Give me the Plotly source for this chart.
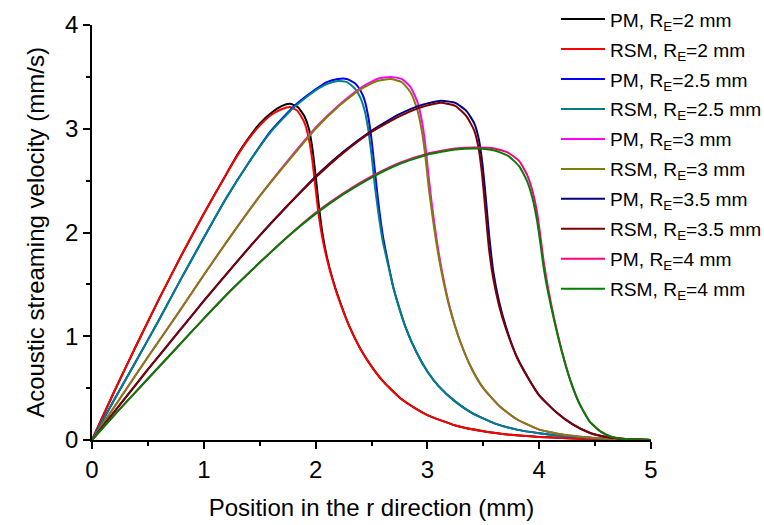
import plotly.graph_objects as go

# ---- data ----
x_re2 = [0, 0.2, 0.4, 0.6, 0.8, 1.0, 1.2, 1.3, 1.4, 1.5, 1.6, 1.7, 1.77, 1.84, 1.9, 1.94, 1.97, 2.0, 2.03, 2.06, 2.1, 2.15, 2.2, 2.3, 2.4, 2.5, 2.6, 2.75, 2.9, 3.0, 3.25, 3.5, 3.75, 4.0, 4.25, 4.5, 4.75, 5.0]
pm_re2 = [0, 0.47, 0.92, 1.36, 1.78, 2.18, 2.56, 2.75, 2.91, 3.05, 3.15, 3.22, 3.24, 3.21, 3.12, 3.0, 2.82, 2.55, 2.25, 2.0, 1.77, 1.56, 1.39, 1.1, 0.88, 0.71, 0.57, 0.41, 0.3, 0.24, 0.14, 0.085, 0.05, 0.03, 0.017, 0.009, 0.004, 0.0]
rsm_re2 = [0, 0.47, 0.92, 1.36, 1.78, 2.18, 2.56, 2.74, 2.9, 3.03, 3.13, 3.19, 3.21, 3.17, 3.06, 2.9, 2.7, 2.42, 2.15, 1.95, 1.75, 1.55, 1.38, 1.1, 0.88, 0.71, 0.57, 0.41, 0.3, 0.24, 0.14, 0.085, 0.05, 0.03, 0.017, 0.009, 0.004, 0.0]

x_re25 = [0, 0.2, 0.4, 0.6, 0.8, 1.0, 1.2, 1.4, 1.6, 1.8, 1.9, 2.0, 2.1, 2.2, 2.28, 2.35, 2.4, 2.44, 2.47, 2.5, 2.53, 2.56, 2.6, 2.65, 2.7, 2.8, 2.9, 3.0, 3.1, 3.25, 3.4, 3.6, 3.8, 4.0, 4.25, 4.5, 4.75, 5.0]
pm_re25 = [0, 0.39, 0.77, 1.16, 1.56, 1.95, 2.33, 2.67, 2.98, 3.21, 3.3, 3.38, 3.45, 3.48, 3.48, 3.44, 3.37, 3.27, 3.12, 2.9, 2.6, 2.3, 1.98, 1.7, 1.45, 1.1, 0.85, 0.66, 0.52, 0.37, 0.26, 0.16, 0.1, 0.065, 0.035, 0.018, 0.007, 0.0]
rsm_re25 = [0, 0.39, 0.77, 1.16, 1.56, 1.95, 2.33, 2.67, 2.97, 3.2, 3.29, 3.37, 3.43, 3.46, 3.45, 3.39, 3.3, 3.17, 3.0, 2.75, 2.45, 2.2, 1.92, 1.68, 1.45, 1.1, 0.85, 0.66, 0.52, 0.37, 0.26, 0.16, 0.1, 0.065, 0.035, 0.018, 0.007, 0.0]

x_re3 = [0, 0.25, 0.5, 0.75, 1.0, 1.25, 1.5, 1.75, 2.0, 2.2, 2.4, 2.55, 2.67, 2.77, 2.85, 2.91, 2.95, 2.98, 3.01, 3.04, 3.08, 3.13, 3.2, 3.3, 3.4, 3.5, 3.65, 3.8, 4.0, 4.25, 4.5, 4.75, 5.0]
pm_re3 = [0, 0.40, 0.80, 1.19, 1.59, 1.98, 2.35, 2.69, 3.01, 3.22, 3.39, 3.48, 3.50, 3.48, 3.40, 3.26, 3.08, 2.86, 2.55, 2.27, 1.95, 1.63, 1.28, 0.93, 0.68, 0.5, 0.32, 0.2, 0.1, 0.045, 0.02, 0.007, 0.0]
rsm_re3 = [0, 0.40, 0.80, 1.19, 1.59, 1.98, 2.35, 2.68, 3.0, 3.21, 3.38, 3.46, 3.48, 3.45, 3.35, 3.18, 2.98, 2.75, 2.45, 2.2, 1.9, 1.6, 1.27, 0.93, 0.68, 0.5, 0.32, 0.2, 0.1, 0.045, 0.02, 0.007, 0.0]

x_re35 = [0, 0.25, 0.5, 0.75, 1.0, 1.25, 1.5, 1.75, 2.0, 2.25, 2.5, 2.75, 2.95, 3.12, 3.25, 3.35, 3.42, 3.46, 3.49, 3.52, 3.55, 3.59, 3.64, 3.7, 3.8, 3.9, 4.0, 4.15, 4.3, 4.45, 4.6, 4.8, 5.0]
pm_re35 = [0, 0.34, 0.68, 1.01, 1.34, 1.66, 1.97, 2.26, 2.54, 2.78, 2.98, 3.14, 3.23, 3.27, 3.25, 3.17, 3.05, 2.9, 2.68, 2.36, 2.0, 1.62, 1.34, 1.1, 0.8, 0.6, 0.43, 0.27, 0.15, 0.07, 0.03, 0.008, 0.0]
rsm_re35 = [0, 0.34, 0.68, 1.01, 1.34, 1.66, 1.97, 2.26, 2.53, 2.77, 2.97, 3.12, 3.21, 3.25, 3.22, 3.12, 2.98, 2.8, 2.55, 2.2, 1.85, 1.55, 1.3, 1.08, 0.8, 0.6, 0.43, 0.27, 0.15, 0.07, 0.03, 0.008, 0.0]

x_re4 = [0, 0.25, 0.5, 0.75, 1.0, 1.25, 1.5, 1.75, 2.0, 2.25, 2.5, 2.75, 3.0, 3.25, 3.45, 3.6, 3.72, 3.82, 3.89, 3.94, 3.98, 4.01, 4.04, 4.08, 4.13, 4.2, 4.28, 4.36, 4.45, 4.55, 4.65, 4.8, 5.0]
pm_re4 = [0, 0.30, 0.59, 0.88, 1.17, 1.45, 1.71, 1.96, 2.19, 2.38, 2.54, 2.67, 2.76, 2.81, 2.82, 2.81, 2.77, 2.69, 2.56, 2.4, 2.2, 1.97, 1.72, 1.46, 1.19, 0.87, 0.57, 0.35, 0.18, 0.08, 0.03, 0.008, 0.0]
rsm_re4 = [0, 0.30, 0.59, 0.88, 1.17, 1.45, 1.71, 1.96, 2.18, 2.37, 2.53, 2.66, 2.75, 2.80, 2.81, 2.79, 2.74, 2.64, 2.5, 2.33, 2.12, 1.9, 1.66, 1.42, 1.17, 0.86, 0.57, 0.35, 0.18, 0.08, 0.03, 0.008, 0.0]

names = ["PM, R<sub>E</sub>=2 mm", "RSM, R<sub>E</sub>=2 mm",
         "PM, R<sub>E</sub>=2.5 mm", "RSM, R<sub>E</sub>=2.5 mm",
         "PM, R<sub>E</sub>=3 mm", "RSM, R<sub>E</sub>=3 mm",
         "PM, R<sub>E</sub>=3.5 mm", "RSM, R<sub>E</sub>=3.5 mm",
         "PM, R<sub>E</sub>=4 mm", "RSM, R<sub>E</sub>=4 mm"]
colors = ["#000000", "#FF0000", "#0000FF", "#008080", "#FF00FF",
          "#808000", "#000080", "#800000", "#FF0080", "#008000"]
series = [(x_re2, pm_re2), (x_re2, rsm_re2), (x_re25, pm_re25), (x_re25, rsm_re25),
          (x_re3, pm_re3), (x_re3, rsm_re3), (x_re35, pm_re35), (x_re35, rsm_re35),
          (x_re4, pm_re4), (x_re4, rsm_re4)]

FONT = "Arial, Liberation Sans, sans-serif"

fig = go.Figure()
for i, ((xs, ys), name, col) in enumerate(zip(series, names, colors)):
    fig.add_trace(go.Scatter(x=xs, y=ys, mode="lines", name=name,
                             legendgroup=str(i),
                             line=dict(color=col, width=2, shape="spline", smoothing=0.5)))

fig.update_layout(
    width=764, height=525,
    margin=dict(l=92, r=113, t=25, b=85, autoexpand=False),
    paper_bgcolor="white", plot_bgcolor="white",
    font=dict(family=FONT, color="black"),
    showlegend=True,
    legend=dict(x=0.83, y=1.06, xanchor="left", yanchor="top",
                bgcolor="rgba(0,0,0,0)", font=dict(size=19.2, family=FONT),
                itemwidth=44, tracegroupgap=2, traceorder="grouped",
                maxheight=600),
)
fig.update_xaxes(range=[0, 5], showline=True, linecolor="black", linewidth=1.5,
                 ticks="outside", ticklen=7, tickwidth=1.5, tickcolor="black",
                 dtick=1, showgrid=False, zeroline=False,
                 tickfont=dict(size=24, family=FONT),
                 minor=dict(dtick=0.5, ticks="outside", ticklen=4, tickwidth=1.5, tickcolor="black", showgrid=False),
                 title=dict(text="Position in the r direction (mm)", font=dict(size=24, family=FONT), standoff=18))
fig.update_yaxes(range=[0, 4], showline=True, linecolor="black", linewidth=1.5,
                 ticks="outside", ticklen=7, tickwidth=1.5, tickcolor="black",
                 dtick=1, showgrid=False, zeroline=False,
                 tickfont=dict(size=24, family=FONT),
                 minor=dict(dtick=0.5, ticks="outside", ticklen=4, tickwidth=1.5, tickcolor="black", showgrid=False),
                 title=dict(text="Acoustic streaming velocity (mm/s)", font=dict(size=24, family=FONT), standoff=14))

fig.write_html("out.html")
